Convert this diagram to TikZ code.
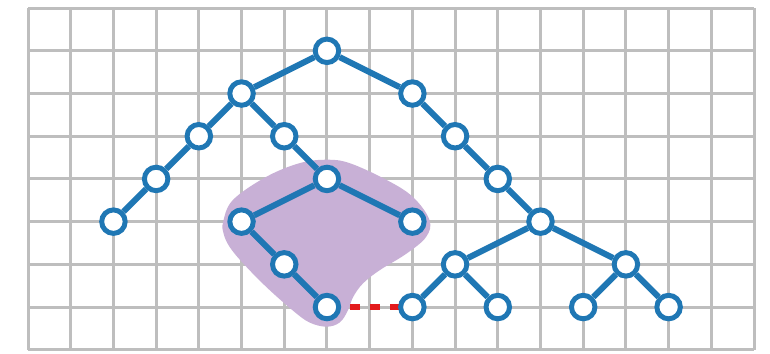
\documentclass[tikz,border=0pt]{standalone}
\usetikzlibrary{backgrounds}
\definecolor{gridgrey}{HTML}{BEBEBE}
\definecolor{treeblue}{HTML}{1F77B4}
\definecolor{blobpurple}{HTML}{C8B0D6}
\definecolor{dashred}{HTML}{E31A1C}
\tikzset{
  gridline/.style={draw=gridgrey, line width=2pt},
  vtx/.style={circle, draw=treeblue, fill=white, line width=3.3pt, minimum size=0.55cm, inner sep=0pt},
  edge/.style={draw=treeblue, line width=4pt},
  missing/.style={draw=dashred, line width=3.8pt, dash pattern=on 6.7pt off 6.7pt, dash phase=11.3pt},
}
\begin{document}
\begin{tikzpicture}
\useasboundingbox (-0.656,-0.08) rectangle (17.374,8.19);
% vertices
\foreach \nm/\x/\y in {r/7/7,a/5/6,b/9/6,c/4/5,d/6/5,e/10/5,f/3/4,g/7/4,h/11/4,i/2/3,k/5/3,l/9/3,m/12/3,n/6/2,o/10/2,p/14/2,q/7/1,s/9/1,t/11/1,u/13/1,v/15/1}
  \node[vtx] (\nm) at (\x,\y) {};
\begin{pgfonlayer}{background}
\fill[white] (-0.656,-0.08) rectangle (17.374,8.19);
\draw[gridline] (0,0) grid (17,8);
% highlighted region
\fill[blobpurple] plot[smooth cycle, tension=0.6] coordinates {
 (4.80,3.51) (5.58,4.05) (6.36,4.37) (6.99,4.45) (7.53,4.37) (8.39,3.98)
 (9.01,3.58) (9.40,3.04) (9.32,2.64) (8.86,2.25) (8.23,1.86) (7.84,1.55)
 (7.61,1.23) (7.49,0.92) (7.30,0.64) (6.99,0.54) (6.59,0.64) (6.20,0.92)
 (5.58,1.47) (5.04,2.02) (4.72,2.41) (4.58,2.72) (4.57,3.00)};
% connectors
\draw[missing] (q.center) -- (s.center);
\foreach \x/\y in {r/a,r/b,a/c,a/d,c/f,f/i,d/g,g/k,g/l,k/n,n/q,b/e,e/h,h/m,m/o,m/p,o/s,o/t,p/u,p/v}
  \draw[edge] (\x) -- (\y);
\end{pgfonlayer}
\end{tikzpicture}
\end{document}
